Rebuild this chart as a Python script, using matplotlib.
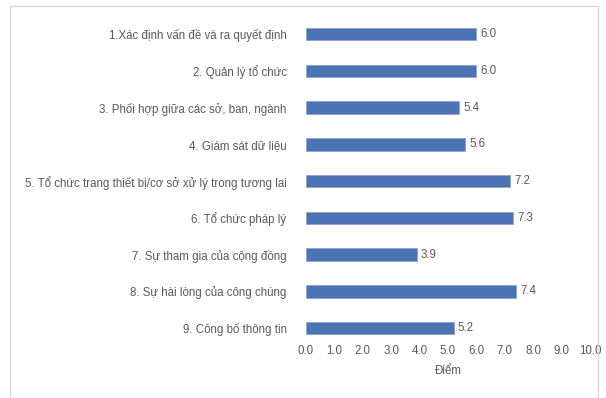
import matplotlib
matplotlib.use('Agg')
import matplotlib.pyplot as plt
from matplotlib.patches import Rectangle

plt.rcParams['font.family'] = ['Liberation Sans', 'DejaVu Sans']

categories = ['1.Xác định vấn đề và ra quyết định',
              '2. Quản lý tổ chức',
              '3. Phối hợp giữa các sở, ban, ngành',
              '4. Giám sát dữ liệu',
              '5. Tổ chức trang thiết bị/cơ sở xử lý trong tương lai',
              '6. Tổ chức pháp lý',
              '7. Sự tham gia của cộng đồng',
              '8. Sự hài lòng của công chúng',
              '9. Công bố thông tin']
scores = [6.0, 6.0, 5.4, 5.6, 7.2, 7.3, 3.9, 7.4, 5.2]
xticks = [0, 1, 2, 3, 4, 5, 6, 7, 8, 9, 10]

W, H = 606, 398
fig = plt.figure(figsize=(W / 100, H / 100), dpi=100)
ax = fig.add_axes([306 / W, 1 - 338 / H, (590 - 306) / W, (338 - 16) / H])

# light frame around the chart
fig.patches.append(Rectangle((10 / W, 0), (598 - 10) / W, 1 - 6 / H,
                             transform=fig.transFigure, fill=False,
                             edgecolor='#d9d9d9', linewidth=1))

fs = 8.3
y = list(range(len(categories)))
bars = ax.barh(y, scores, height=0.34, color='#4c74b4',
               edgecolor='#8aa4cc', linewidth=0.6)
for b, v in zip(bars, scores):
    ax.text(v + 0.15, b.get_y() + b.get_height() / 2, f'{v:.1f}',
            va='center', ha='left', fontsize=fs, color='#595959')

ax.set_ylim(8.27, -0.49)
ax.set_xlim(0, 10)
ax.set_yticks(y)
ax.set_yticklabels(categories, fontsize=fs, color='#595959')
ax.set_xticks(xticks)
ax.set_xticklabels([f'{t:.1f}' for t in xticks], fontsize=fs, color='#595959')
ax.tick_params(length=0)
ax.tick_params(axis='y', pad=14)
ax.tick_params(axis='x', pad=5)
ax.set_xlabel('Điểm', fontsize=fs, color='#595959', labelpad=6)
for s in ax.spines.values():
    s.set_visible(False)

plt.savefig('out.png', dpi=100)
